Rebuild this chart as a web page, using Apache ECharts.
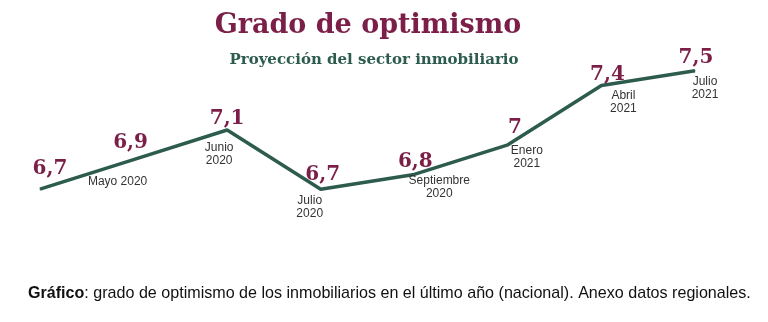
<!DOCTYPE html>
<html><head><meta charset="utf-8">
<script src="https://cdn.jsdelivr.net/npm/echarts@6/dist/echarts.min.js"></script>
<style>html,body{margin:0;padding:0;background:#fff}#c{width:768px;height:322px}</style>
</head><body><div id="c"></div>
<script>
// Data
var categories = ["", "Mayo 2020", "Junio 2020", "Julio 2020", "Septiembre 2020", "Enero 2021", "Abril 2021", "Julio 2021"];
var dateLabels = ["", "Mayo 2020", "Junio\n2020", "Julio\n2020", "Septiembre\n2020", "Enero\n2021", "Abril\n2021", "Julio\n2021"];
var values = [6.7, 6.9, 7.1, 6.7, 6.8, 7.0, 7.4, 7.5];

// Layout (label offsets relative to each point)
var valueOffsets = [[10,-20],[-3,-17],[0,-11],[2,-14],[1,-13],[7,-17],[6,-11],[1,-13]];
var dateOffsets = [[0,0],[-16,22],[-8,24],[-11,18],[25,13],[19,12],[22,17],[10,17]];

var maroon = '#7b1f48', green = '#2d5c4e';
var serif = '"DejaVu Serif", "Liberation Serif", serif';
var sans = '"Liberation Sans", Arial, sans-serif';

var valueData = values.map(function(v,i){
  return {value:v, label:{offset:valueOffsets[i]}};
});
var dateData = values.map(function(v,i){
  return {value:v, label:{offset:dateOffsets[i], show: dateLabels[i] !== ''}};
});

var chart = echarts.init(document.getElementById('c'), null, {renderer:'canvas'});
chart.setOption({
  animation:false,
  title:[
    {text:'Grado de optimismo', left:363, top:7, textAlign:'center',
     textStyle:{fontFamily:serif, fontWeight:'bold', fontSize:27, color:maroon}},
    {text:'Proyección del sector inmobiliario', left:369, top:48, textAlign:'center',
     textStyle:{fontFamily:serif, fontWeight:'bold', fontSize:15, color:green}},
    {text:'{b|Gráfico}: grado de optimismo de los inmobiliarios en el último año (nacional). Anexo datos regionales.',
     left:23, top:281,
     textStyle:{fontFamily:sans, fontSize:16.1, fontWeight:'normal', color:'#111',
       rich:{b:{fontFamily:sans, fontSize:16.1, fontWeight:'bold', color:'#111'}}}}
  ],
  grid:{left:40, right:73, top:56, bottom:118},
  xAxis:{type:'category', data:categories, boundaryGap:false, show:false},
  yAxis:{type:'value', min:6.6, max:7.6, show:false},
  series:[
    {type:'line', data:valueData, symbol:'circle', symbolSize:1, showSymbol:true,
     itemStyle:{color:green}, lineStyle:{color:green, width:3.5},
     label:{show:true, position:'inside', align:'center', verticalAlign:'middle',
       fontFamily:serif, fontWeight:'bold', fontSize:20, color:maroon,
       formatter:function(p){return String(p.value).replace('.',',');}}},
    {type:'line', data:dateData, symbol:'circle', symbolSize:1, showSymbol:true,
     itemStyle:{color:'rgba(0,0,0,0)'}, lineStyle:{opacity:0}, silent:true,
     label:{show:true, position:'inside', align:'center', verticalAlign:'middle',
       fontFamily:sans, fontSize:12, lineHeight:13, color:'#333',
       formatter:function(p){return dateLabels[p.dataIndex];}}}
  ]
});
</script></body></html>
